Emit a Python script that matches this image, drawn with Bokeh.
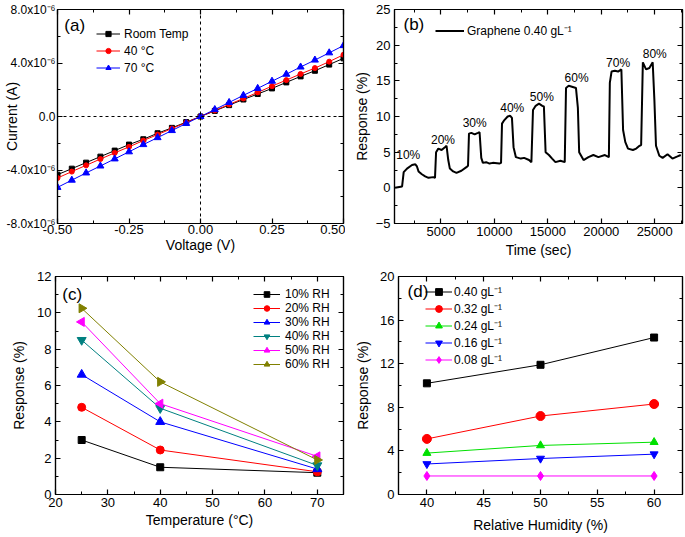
from math import pi
from bokeh.plotting import figure
from bokeh.layouts import column, row
from bokeh.models import Range1d, FixedTicker, LinearAxis, Span, Label, CustomJSTickFormatter, PrintfTickFormatter
from bokeh.embed import file_html
from bokeh.resources import INLINE
from bokeh.core.properties import value

FONT = "Liberation Sans"

# ---------------- data (a): I-V curves, current in units of 1e-6 A ----------------
voltage = [-0.50, -0.45, -0.40, -0.35, -0.30, -0.25, -0.20, -0.15, -0.10, -0.05, 0.00,
           0.05, 0.10, 0.15, 0.20, 0.25, 0.30, 0.35, 0.40, 0.45, 0.50]
current_room = [-4.35, -3.90, -3.45, -3.00, -2.55, -2.10, -1.70, -1.25, -0.85, -0.42, 0.0,
                0.42, 0.85, 1.27, 1.68, 2.10, 2.55, 3.00, 3.42, 3.88, 4.35]
current_40c = [-4.60, -4.12, -3.65, -3.18, -2.72, -2.27, -1.80, -1.35, -0.90, -0.45, 0.0,
               0.45, 0.90, 1.35, 1.80, 2.27, 2.72, 3.18, 3.62, 4.10, 4.62]
current_70c = [-5.30, -4.76, -4.22, -3.70, -3.17, -2.64, -2.10, -1.58, -1.05, -0.52, 0.0,
               0.52, 1.05, 1.58, 2.10, 2.64, 3.16, 3.70, 4.22, 4.76, 5.30]
current_ticks = [-8, -4, 0, 4, 8]
current_tick_labels = ["-8.0x10\u207b\u2076", "-4.0x10\u207b\u2076", "0.0",
                       "4.0x10\u207b\u2076", "8.0x10\u207b\u2076"]

# ---------------- data (b): response vs time ----------------
time_sec = [700, 1360, 1510, 1820, 2290, 2600, 2750, 2900, 3210, 3520, 3830, 4290, 4440,
            4540, 4750, 5060, 5370, 5520, 5680, 5830, 6140, 6450, 6910, 7380, 7530,
            7620, 7840, 8150, 8460, 8610, 8770, 8920, 9230, 9540, 9850, 10460, 10620,
            10710, 10930, 11240, 11480, 11640, 11790, 12010, 12470, 12780, 13240, 13460,
            13610, 13860, 14170, 14480, 14630, 14790, 15100, 15400, 15710, 16180, 16580,
            16700, 16950, 17410, 17630, 17810, 17930, 18340, 18800, 19260, 19730, 20340, 20710,
            20800, 20960, 21270, 21570, 21880, 22040, 22250, 22500, 22960, 23270, 23580, 23730,
            23890, 24190, 24500, 24810, 24970, 25120, 25430, 25740, 26200, 26660, 27130, 27440]
response_t = [0.0, 0.2, 2.2, 2.7, 3.2, 3.3, 3.0, 2.3, 1.9, 1.6, 1.4, 1.5, 1.4,
              5.0, 5.5, 5.3, 5.7, 5.9, 3.9, 2.7, 2.3, 2.1, 2.4, 2.9, 3.1,
              7.6, 7.7, 7.5, 7.7, 7.8, 4.2, 3.5, 3.6, 3.4, 3.5, 3.4, 3.5,
              9.0, 9.5, 10.0, 10.1, 9.8, 5.7, 4.3, 4.1, 4.2, 3.9, 3.6,
              10.9, 11.5, 11.8, 11.5, 11.4, 5.0, 4.6, 4.1, 3.6, 3.8, 3.6,
              14.0, 14.3, 14.1, 14.0, 11.2, 5.0, 3.9, 4.3, 4.6, 4.3, 4.6, 4.3,
              14.7, 16.3, 16.4, 16.3, 16.6, 8.1, 6.4, 5.5, 5.3, 5.5, 5.9, 6.0,
              17.6, 16.6, 16.8, 17.6, 12.3, 5.9, 4.5, 4.2, 4.7, 4.1, 4.4, 4.6]
rh_step_labels = ["10%", "20%", "30%", "40%", "50%", "60%", "70%", "80%"]
rh_step_t = [1940, 5185, 8150, 11670, 14440, 17690, 21570, 25000]
rh_step_r = [4.6, 6.7, 9.1, 11.2, 12.7, 15.4, 17.5, 18.8]

# ---------------- data (c): response vs temperature ----------------
temperature = [25, 40, 70]
resp_rh10 = [3.0, 1.5, 1.2]
resp_rh20 = [4.8, 2.45, 1.25]
resp_rh30 = [6.6, 4.0, 1.4]
resp_rh40 = [8.5, 4.75, 1.6]
resp_rh50 = [9.5, 5.0, 2.1]
resp_rh60 = [10.25, 6.2, 1.9]

# ---------------- data (d): response vs relative humidity ----------------
humidity = [40, 50, 60]
resp_040 = [10.2, 11.9, 14.4]
resp_032 = [5.1, 7.2, 8.3]
resp_024 = [3.8, 4.5, 4.8]
resp_016 = [2.8, 3.3, 3.7]
resp_008 = [1.7, 1.7, 1.7]


def base(width, height, xr, yr, bl, br, bt, bb):
    p = figure(width=width, height=height, x_range=Range1d(*xr), y_range=Range1d(*yr),
               output_backend="svg", toolbar_location=None,
               min_border_left=bl, min_border_right=br, min_border_top=bt, min_border_bottom=bb)
    p.grid.visible = False
    p.outline_line_color = "black"
    p.outline_line_width = 1.2
    return p


def axes(p, xt, xm, yt, ym, xlabel, ylabel, tick_size="13px", xlab_stand=0, ylab_stand=3,
         xtick_stand=4, ytick_stand=4):
    xtick = FixedTicker(ticks=xt, minor_ticks=xm)
    ytick = FixedTicker(ticks=yt, minor_ticks=ym)
    bottom = p.below[0]
    left = p.left[0]
    bottom.ticker = xtick
    left.ticker = ytick
    bottom.axis_label = xlabel
    left.axis_label = ylabel
    top = LinearAxis(ticker=xtick)
    right = LinearAxis(ticker=ytick)
    p.add_layout(top, "above")
    p.add_layout(right, "right")
    for ax in (bottom, left, top, right):
        ax.axis_line_color = "black"
        ax.axis_line_width = 1.2
        ax.major_tick_in = 5
        ax.major_tick_out = 0
        ax.minor_tick_in = 3
        ax.minor_tick_out = 0
        ax.major_tick_line_color = "black"
        ax.minor_tick_line_color = "black"
        ax.major_tick_line_width = 1.2
        ax.minor_tick_line_width = 1
        ax.major_label_text_font = FONT
        ax.major_label_text_font_size = tick_size
        ax.major_label_text_color = "black"
        ax.axis_label_text_font = FONT
        ax.axis_label_text_font_size = "14px"
        ax.axis_label_text_font_style = "normal"
        ax.axis_label_text_color = "black"
    bottom.major_label_standoff = xtick_stand
    left.major_label_standoff = ytick_stand
    bottom.axis_label_standoff = xlab_stand
    left.axis_label_standoff = ylab_stand
    for ax in (top, right):
        ax.major_label_text_font_size = "1px"
        ax.major_label_text_color = None
        ax.major_label_standoff = 0
    return bottom, left


def style_legend(p, loc, glyph_w, glyph_h, label_h, standoff):
    lg = p.legend[0]
    lg.location = loc
    lg.border_line_color = None
    lg.background_fill_alpha = 0
    lg.padding = 0
    lg.margin = 0
    lg.spacing = 0
    lg.glyph_width = glyph_w
    lg.glyph_height = glyph_h
    lg.label_height = label_h
    lg.label_standoff = standoff
    lg.label_text_font = FONT
    lg.label_text_font_size = "12px"
    lg.label_text_color = "black"


def panel_label(p, x, y, txt):
    p.add_layout(Label(x=x, y=y, text=txt, text_font=FONT, text_font_size="17px",
                       text_align="left", text_baseline="middle", text_color="black"))


# ---------------- panel (a) ----------------
pa = base(345, 270, (-0.5, 0.5), (-8, 8), 56, 2, 8, 47)
ba, la = axes(pa, [-0.5, -0.25, 0, 0.25, 0.5], [-0.375, -0.125, 0.125, 0.375],
              current_ticks, [-6, -2, 2, 6], "Voltage (V)", "Current (A)", tick_size="13px",
              xlab_stand=0, ylab_stand=-16, xtick_stand=1, ytick_stand=2)
la.major_label_text_font_size = "12px"
la.formatter = CustomJSTickFormatter(args=dict(tvals=current_ticks, tlabels=current_tick_labels),
                                     code="const i = tvals.indexOf(tick); return i >= 0 ? tlabels[i] : '';")
ba.formatter = PrintfTickFormatter(format="%.2f")
pa.add_layout(Span(location=0, dimension="height", line_dash="3 3", line_color="black", line_width=1))
pa.add_layout(Span(location=0, dimension="width", line_dash="3 3", line_color="black", line_width=1))
pa.line(voltage, current_room, color="black", line_width=1, legend_label="Room Temp")
pa.scatter(voltage, current_room, marker="square", size=5, color="black", legend_label="Room Temp")
pa.line(voltage, current_40c, color="red", line_width=1, legend_label="40 \u00b0C")
pa.scatter(voltage, current_40c, marker="circle", size=5, color="red", legend_label="40 \u00b0C")
pa.line(voltage, current_70c, color="blue", line_width=1, legend_label="70 \u00b0C")
pa.scatter(voltage, current_70c, marker="triangle", size=7, color="blue", legend_label="70 \u00b0C")
style_legend(pa, (39, 147), 24, 13, 17, 4)
panel_label(pa, -0.476, 6.8, "(a)")

# ---------------- panel (b) ----------------
pb = base(339, 270, (650, 27600), (-5, 25), 49, 2, 9, 47)
axes(pb, [5000, 10000, 15000, 20000, 25000], [2500, 7500, 12500, 17500, 22500, 27500],
     [-5, 0, 5, 10, 15, 20, 25], [-2.5, 2.5, 7.5, 12.5, 17.5, 22.5],
     "Time (sec)", "Response (%)", xlab_stand=3, ylab_stand=3, xtick_stand=3)
pb.line(time_sec, response_t, color="black", line_width=2, legend_label="Graphene 0.40 gL\u207b\u00b9")
pb.text(x=rh_step_t, y=rh_step_r, text=rh_step_labels, text_font=value(FONT), text_font_size="12px",
        text_align="center", text_baseline="middle", text_color="black")
style_legend(pb, (41, 184), 29, 17, 17, 3)
panel_label(pb, 1490, 22.9, "(b)")

# ---------------- panel (c) ----------------
pc = base(345, 266, (20, 75), (0, 12), 55, 2, 5, 42)
axes(pc, [20, 30, 40, 50, 60, 70], [25, 35, 45, 55, 65, 75],
     [0, 2, 4, 6, 8, 10, 12], [1, 3, 5, 7, 9, 11],
     "Temperature (\u00b0C)", "Response (%)", xlab_stand=2, ylab_stand=7, xtick_stand=3)
series_c = [
    (resp_rh10, "black", "square", 0, 7, "10% RH"),
    (resp_rh20, "red", "circle", 0, 8, "20% RH"),
    (resp_rh30, "blue", "triangle", 0, 9, "30% RH"),
    (resp_rh40, "#008080", "inverted_triangle", 0, 9, "40% RH"),
    (resp_rh50, "#FF00FF", "triangle", pi / 2, 9, "50% RH"),
    (resp_rh60, "#808000", "triangle", -pi / 2, 9, "60% RH"),
]
for ys, col, mk, ang, sz, lab in series_c:
    pc.line(temperature, ys, color=col, line_width=1, legend_label=lab)
    pc.scatter(temperature, ys, marker=mk, angle=ang, size=sz, color=col, legend_label=lab)
style_legend(pc, (198, 123), 27, 14, 14, 5)
panel_label(pc, 21.3, 11.0, "(c)")

# ---------------- panel (d) ----------------
pd_ = base(339, 266, (37.5, 62.5), (0, 20), 53, 2, 6, 41)
axes(pd_, [40, 45, 50, 55, 60], [37.5, 42.5, 47.5, 52.5, 57.5, 62.5],
     [0, 4, 8, 12, 16, 20], [2, 6, 10, 14, 18],
     "Relative Humidity (%)", "Response (%)", xlab_stand=7, ylab_stand=6, xtick_stand=3)
series_d = [
    (resp_040, "black", "square", 7, "0.40 gL\u207b\u00b9"),
    (resp_032, "red", "circle", 9, "0.32 gL\u207b\u00b9"),
    (resp_024, "#00E000", "triangle", 8, "0.24 gL\u207b\u00b9"),
    (resp_016, "blue", "inverted_triangle", 8, "0.16 gL\u207b\u00b9"),
    (resp_008, "#FF00FF", "diamond", 9, "0.08 gL\u207b\u00b9"),
]
for ys, col, mk, sz, lab in series_d:
    pd_.line(humidity, ys, color=col, line_width=1, legend_label=lab)
    pd_.scatter(humidity, ys, marker=mk, size=sz, color=col, legend_label=lab)
style_legend(pd_, (27, 126), 27, 17, 17, 2)
panel_label(pd_, 38.3, 18.6, "(d)")

layout = column(row(pa, pb), row(pc, pd_))
open("out.html", "w").write(file_html(layout, INLINE))
